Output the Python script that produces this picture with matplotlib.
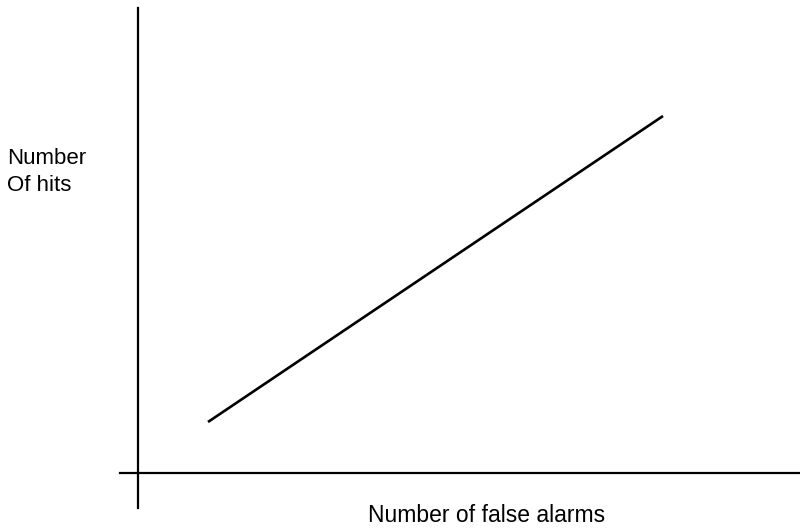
import matplotlib
matplotlib.use("Agg")
import matplotlib.pyplot as plt

false_alarms = [1.0, 7.5]
hits = [1.0, 7.0]
x_label = "Number of false alarms"
y_label = "Number\nOf hits"

plt.rcParams['font.family'] = ['Liberation Sans', 'DejaVu Sans']

fig = plt.figure(figsize=(8, 5.28), dpi=100)
ax = fig.add_axes([0.15, 0.0379, 0.85, 0.947])
ax.plot(false_alarms, hits, color='black', lw=1.9, solid_capstyle='butt')
ax.set_xlim(-0.257, 9.457)
ax.set_ylim(-0.686, 9.118)
for s in ['top', 'right']:
    ax.spines[s].set_visible(False)
ax.spines['left'].set_position(('data', 0))
ax.spines['bottom'].set_position(('data', 0))
ax.spines['left'].set_linewidth(1.6)
ax.spines['bottom'].set_linewidth(1.6)
ax.set_xticks([])
ax.set_yticks([])
ax.patch.set_visible(False)

fig.text(7/800, 1 - 148/528, y_label, ha='left', va='top', fontsize=16, linespacing=1.35)
fig.text(487/800, 1 - 515/528, x_label, ha='center', va='center', fontsize=16.5)

fig.savefig('out.png', dpi=100)
